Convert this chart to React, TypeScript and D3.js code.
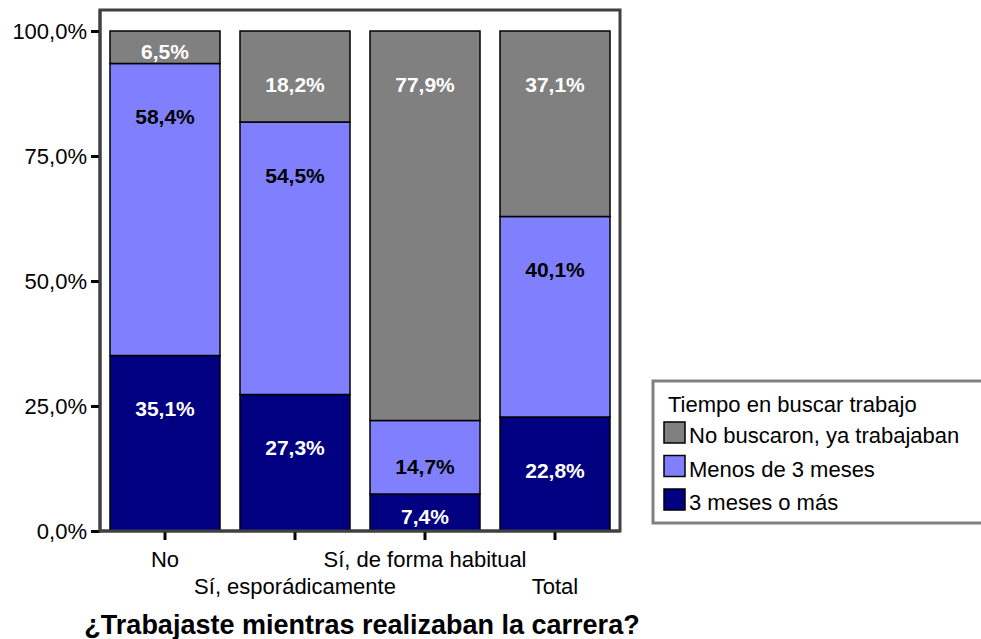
import React, { useEffect, useRef } from 'react';
import * as d3 from 'd3';

// categorías del eje X
const categories = ['No', 'Sí, esporádicamente', 'Sí, de forma habitual', 'Total'];
// series (de abajo hacia arriba)
const seriesKeys = ['tresMeses', 'menosTres', 'noBuscaron'];
const seriesNames = ['3 meses o más', 'Menos de 3 meses', 'No buscaron, ya trabajaban'];
const seriesColors = ['#000080', '#8080ff', '#808080'];
const labelColors = ['#ffffff', '#000000', '#ffffff'];
const tresMeses = [35.1, 27.3, 7.4, 22.8];
const menosTres = [58.4, 54.5, 14.7, 40.1];
const noBuscaron = [6.5, 18.2, 77.9, 37.1];
const yTicks = [0, 25, 50, 75, 100];
const legendTitle = 'Tiempo en buscar trabajo';
const xTitle = '¿Trabajaste mientras realizaban la carrera?';

const FONT = '"Liberation Sans", Arial, sans-serif';

export default function App() {
  const ref = useRef<SVGSVGElement>(null);

  useEffect(() => {
    const svg = d3.select(ref.current);
    svg.selectAll('*').remove();

    const width = 981, height = 639;
    const margin = { top: 10, right: 361, bottom: 108, left: 100 };
    const plotRight = width - margin.right;
    const plotBottom = height - margin.bottom;

    const locale = d3.formatLocale({ decimal: ',', thousands: '.', grouping: [3], currency: ['', ''] });
    const pct = (v: number) => locale.format('.1f')(v) + '%';

    const table = categories.map((c, i) => ({
      cat: c,
      tresMeses: tresMeses[i],
      menosTres: menosTres[i],
      noBuscaron: noBuscaron[i],
    }));

    const x = d3.scaleBand()
      .domain(categories)
      .range([margin.left, plotRight])
      .paddingInner(20 / 130)
      .paddingOuter(10 / 130);

    const y = d3.scaleLinear()
      .domain([0, 100])
      .range([plotBottom, 31]);

    const stack = d3.stack().keys(seriesKeys);
    const series = stack(table as any);

    // marco del gráfico
    svg.append('rect')
      .attr('x', margin.left)
      .attr('y', margin.top)
      .attr('width', plotRight - margin.left)
      .attr('height', plotBottom - margin.top)
      .attr('fill', 'none')
      .attr('stroke', '#404040')
      .attr('stroke-width', 3);

    // barras
    series.forEach((s, si) => {
      const g = svg.append('g');
      g.selectAll('rect')
        .data(s)
        .enter()
        .append('rect')
        .attr('x', (d: any) => x(d.data.cat)!)
        .attr('y', d => y(d[1]))
        .attr('width', x.bandwidth())
        .attr('height', d => y(d[0]) - y(d[1]))
        .attr('fill', seriesColors[si])
        .attr('stroke', '#000')
        .attr('stroke-width', 1.5);

      g.selectAll('text')
        .data(s)
        .enter()
        .append('text')
        .attr('x', (d: any) => x(d.data.cat)! + x.bandwidth() / 2)
        .attr('y', d => {
          const top = y(d[1]);
          const h = y(d[0]) - top;
          return top + Math.min(53, h * 0.62) + 7.5;
        })
        .attr('text-anchor', 'middle')
        .attr('font-family', FONT)
        .attr('font-weight', 'bold')
        .attr('font-size', 21)
        .attr('fill', labelColors[si])
        .text(d => pct(d[1] - d[0]));
    });

    // eje Y
    const yAxis = svg.append('g')
      .attr('transform', `translate(${margin.left},0)`)
      .call(d3.axisLeft(y).tickValues(yTicks).tickFormat(d => pct(d as number)).tickSize(9).tickPadding(4));
    yAxis.select('.domain').remove();
    yAxis.selectAll('line').attr('stroke', '#000').attr('stroke-width', 3);
    yAxis.selectAll('text')
      .attr('font-family', FONT)
      .attr('font-size', 22)
      .attr('fill', '#000');

    // eje X
    const xAxis = svg.append('g')
      .attr('transform', `translate(0,${plotBottom})`)
      .call(d3.axisBottom(x).tickSize(9).tickPadding(11));
    xAxis.select('.domain').remove();
    xAxis.selectAll('line').attr('stroke', '#000').attr('stroke-width', 3);
    xAxis.selectAll('text')
      .attr('font-family', FONT)
      .attr('font-size', 22)
      .attr('fill', '#000')
      .attr('y', (d, i) => (i % 2 === 0 ? 20 : 47));

    // línea de ejes
    svg.append('path')
      .attr('d', `M${margin.left},${margin.top}V${plotBottom}H${plotRight}`)
      .attr('fill', 'none')
      .attr('stroke', '#404040')
      .attr('stroke-width', 3);

    // título del eje X
    svg.append('text')
      .attr('x', (margin.left + plotRight) / 2 + 2)
      .attr('y', 634)
      .attr('text-anchor', 'middle')
      .attr('font-family', FONT)
      .attr('font-weight', 'bold')
      .attr('font-size', 27)
      .text(xTitle);

    // leyenda
    const legend = svg.append('g');
    legend.append('rect')
      .attr('x', 653)
      .attr('y', 381)
      .attr('width', 340)
      .attr('height', 142)
      .attr('fill', '#fff')
      .attr('stroke', '#808080')
      .attr('stroke-width', 3);
    legend.append('text')
      .attr('x', 668)
      .attr('y', 412)
      .attr('font-family', FONT)
      .attr('font-size', 22)
      .text(legendTitle);

    const order = [2, 1, 0];
    order.forEach((si, j) => {
      const ly = 422 + j * 33.5;
      legend.append('rect')
        .attr('x', 664)
        .attr('y', ly)
        .attr('width', 21)
        .attr('height', 21)
        .attr('fill', seriesColors[si])
        .attr('stroke', '#000')
        .attr('stroke-width', 1.5);
      legend.append('text')
        .attr('x', 689)
        .attr('y', ly + 21)
        .attr('font-family', FONT)
        .attr('font-size', 22)
        .text(seriesNames[si]);
    });
  }, []);

  return (
    <svg
      ref={ref}
      width={981}
      height={639}
      style={{ position: 'absolute', left: 0, top: 0, background: '#fff' }}
    />
  );
}
